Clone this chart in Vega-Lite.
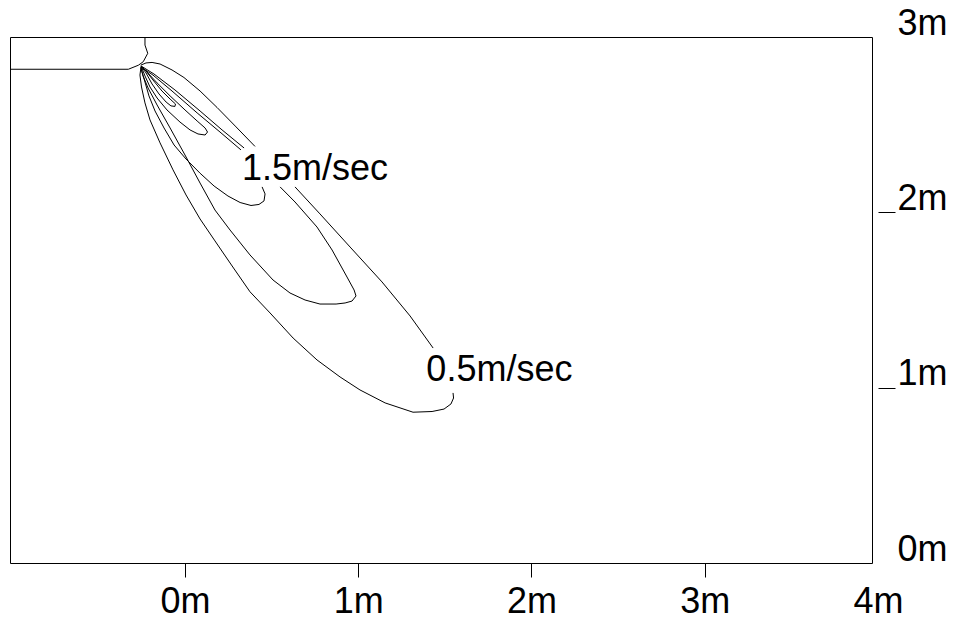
{
  "$schema": "https://vega.github.io/schema/vega-lite/v6.json",
  "autosize": {"type": "none"},
  "padding": {"left": 10, "top": 37, "right": 86, "bottom": 62},
  "width": 862,
  "height": 526,
  "background": "white",
  "config": {
    "view": {"stroke": "black", "strokeWidth": 1},
    "font": "Liberation Sans"
  },
  "datasets": {
    "lines": [
      {"seg": "N", "i": 0, "x": -0.975, "y": 2.816},
      {"seg": "N", "i": 1, "x": -0.292, "y": 2.816},
      {"seg": "N", "i": 2, "x": -0.234, "y": 2.839},
      {"seg": "N", "i": 3, "x": -0.206, "y": 2.859},
      {"seg": "N", "i": 4, "x": -0.180, "y": 2.907},
      {"seg": "N", "i": 5, "x": -0.196, "y": 2.954},
      {"seg": "N", "i": 6, "x": -0.196, "y": 3.0},

      {"seg": "A", "i": 0, "x": -0.219, "y": 2.835},
      {"seg": "A", "i": 1, "x": -0.190, "y": 2.795},
      {"seg": "A", "i": 2, "x": -0.155, "y": 2.732},
      {"seg": "A", "i": 3, "x": -0.115, "y": 2.675},
      {"seg": "A", "i": 4, "x": -0.074, "y": 2.629},
      {"seg": "A", "i": 5, "x": -0.046, "y": 2.607},
      {"seg": "A", "i": 6, "x": -0.023, "y": 2.604},
      {"seg": "A", "i": 7, "x": -0.020, "y": 2.618},
      {"seg": "A", "i": 8, "x": -0.051, "y": 2.646},
      {"seg": "A", "i": 9, "x": -0.098, "y": 2.692},
      {"seg": "A", "i": 10, "x": -0.150, "y": 2.755},
      {"seg": "A", "i": 11, "x": -0.190, "y": 2.806},
      {"seg": "A", "i": 12, "x": -0.219, "y": 2.835},

      {"seg": "B", "i": 0, "x": -0.219, "y": 2.835},
      {"seg": "B", "i": 1, "x": -0.196, "y": 2.778},
      {"seg": "B", "i": 2, "x": -0.167, "y": 2.715},
      {"seg": "B", "i": 3, "x": -0.126, "y": 2.652},
      {"seg": "B", "i": 4, "x": -0.069, "y": 2.584},
      {"seg": "B", "i": 5, "x": 0.006, "y": 2.515},
      {"seg": "B", "i": 6, "x": 0.064, "y": 2.470},
      {"seg": "B", "i": 7, "x": 0.110, "y": 2.447},
      {"seg": "B", "i": 8, "x": 0.151, "y": 2.441},
      {"seg": "B", "i": 9, "x": 0.165, "y": 2.458},
      {"seg": "B", "i": 10, "x": 0.151, "y": 2.481},
      {"seg": "B", "i": 11, "x": 0.105, "y": 2.521},
      {"seg": "B", "i": 12, "x": 0.035, "y": 2.584},
      {"seg": "B", "i": 13, "x": -0.051, "y": 2.664},
      {"seg": "B", "i": 14, "x": -0.126, "y": 2.738},
      {"seg": "B", "i": 15, "x": -0.184, "y": 2.800},
      {"seg": "B", "i": 16, "x": -0.219, "y": 2.835},

      {"seg": "C1", "i": 0, "x": -0.219, "y": 2.829},
      {"seg": "C1", "i": 1, "x": -0.150, "y": 2.783},
      {"seg": "C1", "i": 2, "x": -0.040, "y": 2.692},
      {"seg": "C1", "i": 3, "x": 0.105, "y": 2.567},
      {"seg": "C1", "i": 4, "x": 0.237, "y": 2.458},
      {"seg": "C1", "i": 5, "x": 0.358, "y": 2.356},

      {"seg": "C2", "i": 0, "x": 0.480, "y": 2.145},
      {"seg": "C2", "i": 1, "x": 0.497, "y": 2.105},
      {"seg": "C2", "i": 2, "x": 0.491, "y": 2.065},
      {"seg": "C2", "i": 3, "x": 0.462, "y": 2.045},
      {"seg": "C2", "i": 4, "x": 0.416, "y": 2.039},
      {"seg": "C2", "i": 5, "x": 0.353, "y": 2.056},
      {"seg": "C2", "i": 6, "x": 0.283, "y": 2.093},
      {"seg": "C2", "i": 7, "x": 0.203, "y": 2.150},
      {"seg": "C2", "i": 8, "x": 0.122, "y": 2.223},
      {"seg": "C2", "i": 9, "x": 0.041, "y": 2.304},
      {"seg": "C2", "i": 10, "x": -0.028, "y": 2.384},
      {"seg": "C2", "i": 11, "x": -0.086, "y": 2.481},
      {"seg": "C2", "i": 12, "x": -0.138, "y": 2.578},
      {"seg": "C2", "i": 13, "x": -0.173, "y": 2.664},
      {"seg": "C2", "i": 14, "x": -0.196, "y": 2.743},
      {"seg": "C2", "i": 15, "x": -0.213, "y": 2.800},
      {"seg": "C2", "i": 16, "x": -0.219, "y": 2.829},

      {"seg": "D1", "i": 0, "x": -0.219, "y": 2.835},
      {"seg": "D1", "i": 1, "x": -0.144, "y": 2.789},
      {"seg": "D1", "i": 2, "x": -0.023, "y": 2.698},
      {"seg": "D1", "i": 3, "x": 0.122, "y": 2.578},
      {"seg": "D1", "i": 4, "x": 0.249, "y": 2.470},
      {"seg": "D1", "i": 5, "x": 0.376, "y": 2.367},

      {"seg": "D2", "i": 0, "x": 0.584, "y": 2.145},
      {"seg": "D2", "i": 1, "x": 0.670, "y": 2.059},
      {"seg": "D2", "i": 2, "x": 0.797, "y": 1.916},
      {"seg": "D2", "i": 3, "x": 0.884, "y": 1.785},
      {"seg": "D2", "i": 4, "x": 0.970, "y": 1.631},
      {"seg": "D2", "i": 5, "x": 1.011, "y": 1.557},
      {"seg": "D2", "i": 6, "x": 1.022, "y": 1.523},
      {"seg": "D2", "i": 7, "x": 0.999, "y": 1.494},
      {"seg": "D2", "i": 8, "x": 0.959, "y": 1.483},
      {"seg": "D2", "i": 9, "x": 0.907, "y": 1.477},
      {"seg": "D2", "i": 10, "x": 0.814, "y": 1.477},
      {"seg": "D2", "i": 11, "x": 0.728, "y": 1.500},
      {"seg": "D2", "i": 12, "x": 0.641, "y": 1.540},
      {"seg": "D2", "i": 13, "x": 0.543, "y": 1.614},
      {"seg": "D2", "i": 14, "x": 0.410, "y": 1.757},
      {"seg": "D2", "i": 15, "x": 0.295, "y": 1.899},
      {"seg": "D2", "i": 16, "x": 0.208, "y": 2.013},
      {"seg": "D2", "i": 17, "x": 0.122, "y": 2.167},
      {"seg": "D2", "i": 18, "x": 0.035, "y": 2.327},
      {"seg": "D2", "i": 19, "x": -0.051, "y": 2.481},
      {"seg": "D2", "i": 20, "x": -0.126, "y": 2.612},
      {"seg": "D2", "i": 21, "x": -0.178, "y": 2.709},
      {"seg": "D2", "i": 22, "x": -0.207, "y": 2.778},
      {"seg": "D2", "i": 23, "x": -0.219, "y": 2.823},

      {"seg": "E1", "i": 0, "x": -0.219, "y": 2.840},
      {"seg": "E1", "i": 1, "x": -0.190, "y": 2.852},
      {"seg": "E1", "i": 2, "x": -0.155, "y": 2.855},
      {"seg": "E1", "i": 3, "x": -0.109, "y": 2.846},
      {"seg": "E1", "i": 4, "x": -0.040, "y": 2.812},
      {"seg": "E1", "i": 5, "x": 0.029, "y": 2.769},
      {"seg": "E1", "i": 6, "x": 0.122, "y": 2.692},
      {"seg": "E1", "i": 7, "x": 0.220, "y": 2.598},
      {"seg": "E1", "i": 8, "x": 0.330, "y": 2.487},
      {"seg": "E1", "i": 9, "x": 0.439, "y": 2.376},

      {"seg": "E2", "i": 0, "x": 0.670, "y": 2.145},
      {"seg": "E2", "i": 1, "x": 0.814, "y": 1.991},
      {"seg": "E2", "i": 2, "x": 0.988, "y": 1.802},
      {"seg": "E2", "i": 3, "x": 1.172, "y": 1.603},
      {"seg": "E2", "i": 4, "x": 1.334, "y": 1.409},
      {"seg": "E2", "i": 5, "x": 1.467, "y": 1.226},

      {"seg": "E3", "i": 0, "x": 1.582, "y": 0.970},
      {"seg": "E3", "i": 1, "x": 1.585, "y": 0.941},
      {"seg": "E3", "i": 2, "x": 1.570, "y": 0.907},
      {"seg": "E3", "i": 3, "x": 1.530, "y": 0.878},
      {"seg": "E3", "i": 4, "x": 1.461, "y": 0.864},
      {"seg": "E3", "i": 5, "x": 1.351, "y": 0.860},
      {"seg": "E3", "i": 6, "x": 1.190, "y": 0.913},
      {"seg": "E3", "i": 7, "x": 1.045, "y": 0.987},
      {"seg": "E3", "i": 8, "x": 0.930, "y": 1.061},
      {"seg": "E3", "i": 9, "x": 0.797, "y": 1.158},
      {"seg": "E3", "i": 10, "x": 0.659, "y": 1.283},
      {"seg": "E3", "i": 11, "x": 0.526, "y": 1.426},
      {"seg": "E3", "i": 12, "x": 0.410, "y": 1.547},
      {"seg": "E3", "i": 13, "x": 0.307, "y": 1.694},
      {"seg": "E3", "i": 14, "x": 0.208, "y": 1.837},
      {"seg": "E3", "i": 15, "x": 0.122, "y": 1.962},
      {"seg": "E3", "i": 16, "x": 0.041, "y": 2.099},
      {"seg": "E3", "i": 17, "x": -0.034, "y": 2.242},
      {"seg": "E3", "i": 18, "x": -0.109, "y": 2.396},
      {"seg": "E3", "i": 19, "x": -0.167, "y": 2.527},
      {"seg": "E3", "i": 20, "x": -0.196, "y": 2.624},
      {"seg": "E3", "i": 21, "x": -0.216, "y": 2.715},
      {"seg": "E3", "i": 22, "x": -0.225, "y": 2.783},
      {"seg": "E3", "i": 23, "x": -0.219, "y": 2.829}
    ],
    "labels": [
      {"text": "1.5m/sec", "x": 0.364, "y": 2.187},
      {"text": "0.5m/sec", "x": 1.428, "y": 1.038}
    ]
  },
  "layer": [
    {
      "data": {"name": "lines"},
      "mark": {"type": "line", "stroke": "black", "strokeWidth": 1, "interpolate": "linear"},
      "encoding": {
        "x": {
          "field": "x", "type": "quantitative",
          "scale": {"domain": [-0.975, 4], "nice": false, "zero": false},
          "axis": {
            "orient": "bottom", "values": [0, 1, 2, 3, 4], "labelExpr": "datum.value + 'm'",
            "title": null, "domain": false, "grid": false,
            "tickSize": 14, "tickOffset": 6, "tickColor": "black", "tickWidth": 1,
            "tickOpacity": {"condition": {"test": "datum.value == 4", "value": 0}, "value": 1},
            "labelFont": "Liberation Sans", "labelFontSize": 36, "labelColor": "black",
            "labelBaseline": "alphabetic", "labelPadding": 35,
            "labelFlush": false, "labelOverlap": false, "labelBound": false
          }
        },
        "y": {
          "field": "y", "type": "quantitative",
          "scale": {"domain": [0, 3], "nice": false, "zero": false},
          "axis": {
            "orient": "right", "values": [0, 1, 2, 3], "labelExpr": "datum.value + 'm'",
            "title": null, "domain": false, "grid": false, "offset": 6,
            "tickSize": 17, "tickColor": "black", "tickWidth": 1,
            "tickOpacity": {"condition": {"test": "datum.value == 1 || datum.value == 2", "value": 1}, "value": 0},
            "labelFont": "Liberation Sans", "labelFontSize": 36, "labelColor": "black",
            "labelBaseline": "alphabetic", "labelAlign": "left", "labelPadding": 2, "labelOffset": -3,
            "labelFlush": false, "labelOverlap": false, "labelBound": false
          }
        },
        "detail": {"field": "seg"},
        "order": {"field": "i", "type": "quantitative"}
      }
    },
    {
      "data": {"name": "labels"},
      "mark": {"type": "text", "font": "Liberation Sans", "fontSize": 36, "color": "black", "align": "left", "baseline": "alphabetic"},
      "encoding": {
        "x": {"field": "x", "type": "quantitative"},
        "y": {"field": "y", "type": "quantitative"},
        "text": {"field": "text"}
      }
    }
  ]
}
